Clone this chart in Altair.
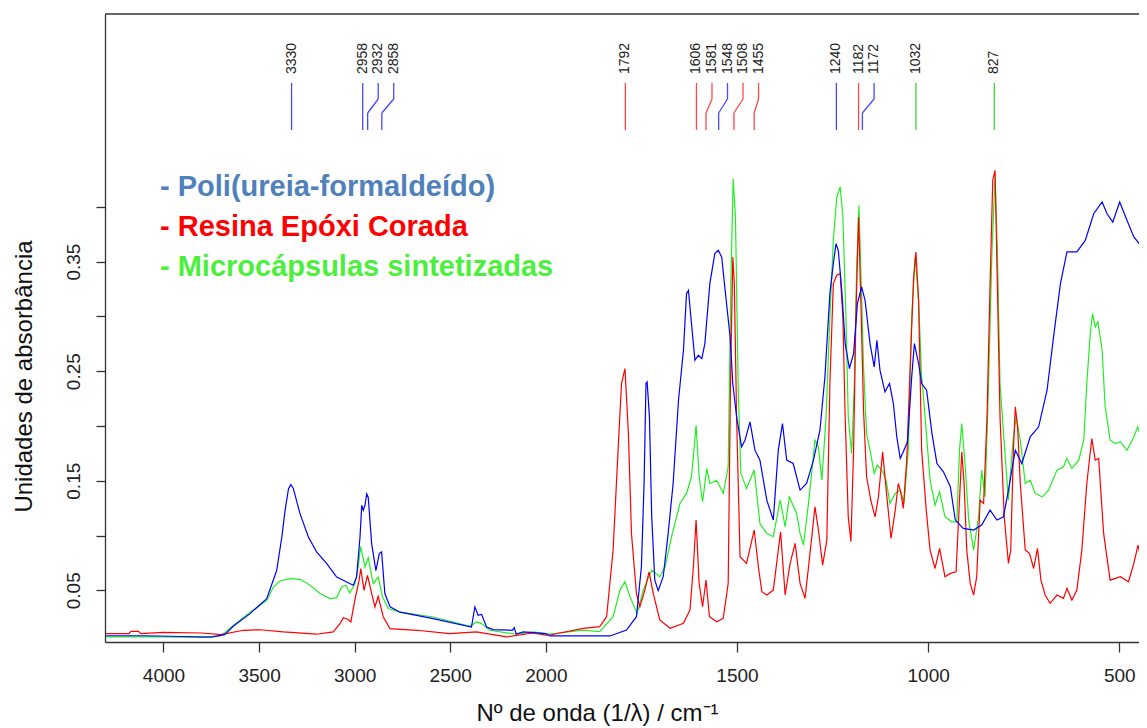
import altair as alt
import pandas as pd

# ---------------- data ----------------
series_names = ["Poli(ureia-formaldeído)", "Resina Epóxi Corada", "Microcápsulas sintetizadas"]

blue_wn = [4300, 4100, 3900, 3750, 3680, 3634, 3547, 3460, 3408, 3381, 3364, 3346, 3334, 3321, 3286, 3242,
           3199, 3146, 3094, 3042, 3007, 2990, 2972, 2963, 2955, 2946, 2937, 2929, 2911, 2889, 2871, 2859,
           2842, 2815, 2763, 2589, 2389, 2371, 2354, 2336, 2310, 2276, 2175, 2165, 2155, 2118, 2000,
           1989, 1832, 1789, 1763, 1750, 1743, 1738, 1735, 1729, 1723, 1715, 1706, 1693, 1680, 1667, 1653,
           1640, 1632, 1627, 1619, 1610, 1601, 1592, 1584, 1571, 1558, 1549, 1540, 1531, 1518, 1511, 1501,
           1488, 1479, 1466, 1453, 1440, 1422, 1405, 1392, 1381, 1370, 1353, 1335, 1318, 1300, 1283, 1270,
           1257, 1248, 1241, 1235, 1226, 1217, 1206, 1195, 1185, 1174, 1165, 1152, 1141, 1134, 1126, 1113,
           1101, 1091, 1082, 1073, 1065, 1054, 1043, 1036, 1025, 1017, 1004, 990, 977, 960, 942, 929, 908,
           881, 860, 838, 820, 803, 790, 772, 755, 733, 711, 689, 672, 654, 637, 611, 589, 567, 545, 532,
           517, 499, 480, 462, 445, 428]
blue_abs = [0.0085, 0.0085, 0.0078, 0.0072, 0.0095, 0.0174, 0.0287, 0.0424, 0.068, 0.0986, 0.123, 0.1428,
            0.1464, 0.143, 0.120, 0.0986, 0.085, 0.0744, 0.0621, 0.0576, 0.0546, 0.062, 0.0986, 0.1276,
            0.123, 0.1276, 0.138, 0.135, 0.0926, 0.068, 0.0835, 0.085, 0.047, 0.035, 0.030, 0.0242, 0.0165,
            0.0348, 0.0272, 0.028, 0.0165, 0.0141, 0.0135, 0.016, 0.010, 0.012, 0.0105,
            0.0083, 0.0083, 0.0137, 0.0259, 0.0715, 0.1475, 0.2387, 0.2402, 0.2083, 0.117, 0.0593, 0.0496,
            0.0624, 0.1019, 0.1475, 0.2235, 0.2691, 0.3208, 0.3238, 0.2934, 0.26, 0.2645, 0.2615, 0.2752,
            0.3299, 0.3573, 0.3603, 0.3542, 0.3238, 0.2813, 0.2387, 0.2083, 0.181, 0.187, 0.2037, 0.1779,
            0.1688, 0.1323, 0.1141, 0.1779, 0.2022, 0.1688, 0.1657, 0.1414, 0.1475, 0.1688, 0.1961, 0.2448,
            0.3208, 0.3481, 0.3664, 0.3603, 0.3238, 0.2752, 0.2524, 0.266, 0.3117, 0.3269, 0.3147, 0.2752,
            0.2539, 0.2782, 0.2509, 0.2311, 0.2387, 0.2205, 0.19, 0.1703, 0.1764, 0.1855, 0.2448, 0.2752,
            0.257, 0.2387, 0.2326, 0.193, 0.1657, 0.1581, 0.1445, 0.1141, 0.1065, 0.105, 0.1095, 0.1232,
            0.1141, 0.1171, 0.1414, 0.1779, 0.1657, 0.19, 0.1992, 0.2326, 0.2813, 0.3299, 0.3588, 0.3588,
            0.3694, 0.3937, 0.4044, 0.3937, 0.3861, 0.4044, 0.3877, 0.3725, 0.3649, 0.3603]

red_wn = [4300, 4180, 4170, 4130, 4120, 4000, 3800, 3700, 3582, 3495, 3373, 3199, 3112, 3077, 3059, 3033,
          3020, 2999, 2977, 2968, 2951, 2933, 2911, 2894, 2877, 2850, 2815, 2676, 2502, 2363, 2206, 2067,
          2000, 1989, 1902, 1859, 1841, 1824, 1811, 1802, 1793, 1784, 1776, 1763, 1754, 1741, 1730, 1719,
          1702, 1675, 1640, 1623, 1614, 1607, 1599, 1590, 1581, 1572, 1553, 1536, 1523, 1517, 1511, 1507,
          1501, 1492, 1475, 1455, 1444, 1435, 1422, 1405, 1386, 1374, 1361, 1348, 1335, 1322, 1309, 1296,
          1287, 1276, 1265, 1257, 1248, 1239, 1230, 1223, 1217, 1209, 1202, 1195, 1189, 1182, 1176, 1169,
          1161, 1150, 1139, 1130, 1119, 1108, 1097, 1086, 1078, 1071, 1065, 1056, 1047, 1038, 1032, 1025,
          1017, 1005, 995, 982, 970, 956, 942, 927, 918, 912, 906, 899, 890, 881, 873, 864, 855, 846, 838,
          831, 825, 819, 812, 801, 790, 784, 777, 772, 766, 759, 746, 735, 724, 714, 705, 694, 681, 663,
          646, 637, 624, 611, 598, 585, 572, 563, 554, 541, 524, 497, 476, 462, 451, 441, 428]
red_abs = [0.0105, 0.0105, 0.0125, 0.0125, 0.0105, 0.0115, 0.011, 0.0095, 0.0135, 0.014, 0.012, 0.0099,
           0.012, 0.0196, 0.025, 0.0233, 0.0211, 0.041, 0.059, 0.0698, 0.05, 0.0637, 0.047, 0.0348, 0.0445,
           0.0256, 0.015, 0.0135, 0.0105, 0.012, 0.0074, 0.011, 0.009,
           0.0092, 0.0153, 0.0168, 0.0259, 0.0867, 0.1779, 0.2387, 0.2524, 0.1931, 0.1019, 0.0472, 0.035,
           0.0502, 0.0669, 0.0472, 0.0229, 0.0153, 0.0198, 0.032, 0.0715, 0.1141, 0.0563, 0.035, 0.0593,
           0.0259, 0.0213, 0.0244, 0.0563, 0.2387, 0.3542, 0.33, 0.2083, 0.0806, 0.0746, 0.105, 0.0715,
           0.0487, 0.0457, 0.0502, 0.1034, 0.0457, 0.0746, 0.0928, 0.0563, 0.0426, 0.0837, 0.1262, 0.105,
           0.073, 0.0958, 0.2387, 0.3299, 0.3375, 0.339, 0.2995, 0.2083, 0.1171, 0.0943, 0.1779, 0.2995,
           0.3907, 0.3147, 0.2144, 0.1536, 0.1323, 0.1171, 0.1353, 0.1764, 0.1353, 0.0973, 0.1232, 0.1475,
           0.1384, 0.1247, 0.1688, 0.2539, 0.336, 0.3588, 0.3147, 0.1779, 0.1232, 0.0867, 0.0699, 0.0882,
           0.0624, 0.0654, 0.0669, 0.1323, 0.1764, 0.1475, 0.0867, 0.0563, 0.0457, 0.0624, 0.1323, 0.1293,
           0.2083, 0.3299, 0.4241, 0.4333, 0.3299, 0.2083, 0.1171, 0.0746, 0.0867, 0.1779, 0.2174, 0.1992,
           0.1475, 0.0867, 0.0837, 0.0699, 0.0882, 0.0593, 0.0457, 0.0381, 0.0457, 0.0426, 0.0517, 0.0411,
           0.0502, 0.0867, 0.1475, 0.1885, 0.1688, 0.1703, 0.1019, 0.0593, 0.0624, 0.0578, 0.0746, 0.0913,
           0.0746, 0.0654]

green_wn = [4300, 4000, 3800, 3700, 3634, 3547, 3460, 3425, 3390, 3338, 3286, 3233, 3181, 3129, 3094, 3068,
            3046, 3025, 2999, 2981, 2969, 2946, 2929, 2903, 2877, 2854, 2824, 2763, 2589, 2397, 2363, 2336,
            2293, 2154, 2067, 2000, 1989, 1902, 1859, 1824, 1806, 1793, 1780, 1761, 1745, 1723, 1702, 1688,
            1671, 1649, 1632, 1619, 1607, 1599, 1590, 1579, 1571, 1553, 1536, 1523, 1516, 1510, 1504, 1497,
            1490, 1475, 1455, 1440, 1422, 1405, 1387, 1374, 1363, 1344, 1335, 1326, 1313, 1296, 1287, 1278,
            1267, 1257, 1248, 1239, 1230, 1223, 1215, 1209, 1200, 1193, 1187, 1181, 1175, 1169, 1161, 1152,
            1141, 1133, 1121, 1110, 1100, 1086, 1073, 1063, 1052, 1043, 1034, 1025, 1017, 1008, 995, 982,
            970, 956, 938, 925, 918, 912, 903, 894, 881, 868, 860, 851, 842, 833, 825, 819, 812, 801, 790,
            778, 770, 759, 746, 733, 720, 702, 685, 663, 646, 637, 624, 606, 593, 585, 576, 570, 563, 556,
            545, 537, 524, 511, 497, 480, 462, 452, 441, 428]
green_abs = [0.0075, 0.0075, 0.007, 0.0085, 0.018, 0.030, 0.0409, 0.053, 0.0585, 0.0607, 0.060, 0.0546,
             0.047, 0.0424, 0.0433, 0.053, 0.0546, 0.0475, 0.056, 0.0713, 0.090, 0.0713, 0.0798, 0.056,
             0.062, 0.0439, 0.0333, 0.030, 0.0256, 0.0171, 0.0211, 0.0196, 0.0135, 0.0099, 0.012, 0.0105,
             0.0101, 0.0137, 0.0122, 0.0259, 0.0502, 0.0578, 0.0442, 0.029, 0.0502, 0.0684, 0.0624, 0.0715,
             0.0989, 0.1293, 0.1384, 0.1536, 0.2007, 0.1536, 0.1308, 0.1612, 0.1475, 0.1505, 0.1384, 0.1627,
             0.3299, 0.4257, 0.3907, 0.2387, 0.1566, 0.143, 0.1597, 0.111, 0.1019, 0.0989, 0.1323, 0.108,
             0.1353, 0.1201, 0.1019, 0.0913, 0.1293, 0.187, 0.181, 0.1505, 0.2083, 0.2995, 0.3694, 0.409,
             0.4181, 0.3907, 0.2995, 0.2083, 0.1749, 0.2387, 0.3451, 0.4013, 0.33, 0.2539, 0.193, 0.1779,
             0.1566, 0.1642, 0.1597, 0.1505, 0.1293, 0.1384, 0.1414, 0.1293, 0.1779, 0.2995, 0.3542, 0.3147,
             0.2448, 0.2083, 0.1505, 0.1277, 0.1399, 0.1171, 0.1125, 0.1125, 0.1779, 0.2022, 0.1627, 0.1141,
             0.0867, 0.1171, 0.1597, 0.1353, 0.2387, 0.3603, 0.4272, 0.3603, 0.2387, 0.184, 0.1323, 0.187,
             0.2083, 0.187, 0.1475, 0.1505, 0.1384, 0.1353, 0.1414, 0.1597, 0.1627, 0.1703, 0.1612, 0.1688,
             0.187, 0.2387, 0.2843, 0.3025, 0.2904, 0.2949, 0.2691, 0.2174, 0.187, 0.184, 0.1855, 0.1779,
             0.19, 0.1992, 0.187, 0.1794]

# band annotations at the top
ann_wn = [3330, 2958, 2932, 2858, 1792, 1606, 1581, 1548, 1508, 1455, 1240, 1182, 1172, 1032, 827]
ann_series = [0, 0, 0, 0, 1, 1, 1, 0, 1, 1, 0, 1, 0, 2, 2]

x_tick_wn = [4000, 3500, 3000, 2500, 2000, 1500, 1000, 500]
y_ticks = [0.05, 0.10, 0.15, 0.20, 0.25, 0.30, 0.35, 0.40]

# ---------------- helpers ----------------
def to_p(w):
    # axis scale is compressed 2x above 2000 cm-1
    return w if w <= 2000 else 2000 + (w - 2000) / 2.0

line_colors = ["#0000FF", "#FF0000", "#22EE22"]
ann_colors = ["#4848FF", "#FF4848", "#33DD33"]
legend_colors = ["#4F81BD", "#FF0000", "#4CF03C"]

spectra = []
for name, wn, ab in zip(series_names, [blue_wn, red_wn, green_wn], [blue_abs, red_abs, green_abs]):
    spectra.append(pd.DataFrame({"wn": wn, "abs": ab, "serie": name, "p": [to_p(w) for w in wn]}))

# label spreading (left to right)
GAP = 40.6
ann_p = [to_p(w) for w in ann_wn]
order = sorted(range(len(ann_wn)), key=lambda i: -ann_p[i])
lab_p = [0.0] * len(ann_wn)
prev = None
for i in order:
    lp = ann_p[i] if prev is None else min(ann_p[i], prev - GAP)
    lab_p[i] = lp
    prev = lp
ann_df = pd.DataFrame({
    "p": ann_p, "lp": lab_p, "label": [str(w) for w in ann_wn],
    "serie": [series_names[s] for s in ann_series],
})

W, H = 1034, 628
P_LEFT, P_RIGHT = 3153, 448.5
xscale = alt.Scale(domain=[P_RIGHT, P_LEFT], reverse=True, nice=False, zero=False)
yscale = alt.Scale(domain=[0.0028, 0.576], nice=False, zero=False)

FONT = "Liberation Sans"

x_axis = alt.Axis(
    values=[to_p(w) for w in x_tick_wn],
    labelExpr="datum.value > 2000 ? format(2000 + (datum.value - 2000) * 2, 'd') : format(datum.value, 'd')",
    tickSize=10, tickWidth=1.3, tickColor="#333", domainColor="#333", domainWidth=1.3,
    labelFont=FONT, labelFontSize=19, labelColor="#222", labelPadding=14,
    labelFlush=False, labelOverlap=False, grid=False,
    title="Nº de onda (1/λ) / cm⁻¹", titleFont=FONT, titleFontSize=24, titleFontWeight="normal",
    titleColor="#111", titleX=492, titleY=78, titleAlign="center", titleBaseline="alphabetic",
)
y_axis = alt.Axis(
    values=y_ticks,
    labelExpr="(round(datum.value * 100) % 10 == 5) ? format(datum.value, '.2f') : ''",
    tickSize=9, tickWidth=1.3, tickColor="#333", domainColor="#333", domainWidth=1.3,
    labelFont=FONT, labelFontSize=19, labelColor="#222", labelAngle=270,
    labelAlign="center", labelBaseline="alphabetic", labelPadding=17,
    labelFlush=False, labelOverlap=False, grid=False,
    title="Unidades de absorbância", titleFont=FONT, titleFontSize=24, titleFontWeight="normal",
    titleColor="#111", titleAngle=270, titleX=-81, titleY=362, titleAlign="center", titleBaseline="middle",
)

color_lines = alt.Color("serie:N", scale=alt.Scale(domain=series_names, range=line_colors), legend=None)
color_ann = alt.Color("serie:N", scale=alt.Scale(domain=series_names, range=ann_colors), legend=None)

layers = []
# draw order: green, red, blue
for idx in [2, 1, 0]:
    df = spectra[idx]
    lyr = alt.Chart(df).mark_line(strokeWidth=1.2, clip=True).encode(
        x=alt.X("p:Q", scale=xscale, axis=x_axis),
        y=alt.Y("abs:Q", scale=yscale, axis=y_axis),
        order=alt.Order("p:Q"),
        color=color_lines,
    )
    layers.append(lyr)

ann_base = alt.Chart(ann_df)
r1 = ann_base.mark_rule(strokeWidth=1.3).encode(
    x=alt.X("lp:Q", scale=xscale, axis=x_axis), y=alt.value(69), y2=alt.value(85), color=color_ann)
r2 = ann_base.mark_rule(strokeWidth=1.3).encode(
    x=alt.X("lp:Q", scale=xscale, axis=x_axis), x2="p:Q", y=alt.value(85), y2=alt.value(99), color=color_ann)
r3 = ann_base.mark_rule(strokeWidth=1.3).encode(
    x=alt.X("p:Q", scale=xscale, axis=x_axis), y=alt.value(99), y2=alt.value(116), color=color_ann)
txt = ann_base.mark_text(angle=270, align="left", baseline="middle", font=FONT, fontSize=14,
                         color="#222").encode(
    x=alt.X("lp:Q", scale=xscale, axis=x_axis), y=alt.value(60), text="label:N")

top_border = alt.Chart(pd.DataFrame({"a": [0]})).mark_rule(color="#333", strokeWidth=1.3).encode(
    x=alt.value(0), x2=alt.value(W), y=alt.value(0))

leg_layers = []
for k, (name, col) in enumerate(zip(series_names, legend_colors)):
    leg_layers.append(
        alt.Chart(pd.DataFrame({"t": ["- " + name]})).mark_text(
            align="left", baseline="middle", font=FONT, fontSize=29, fontWeight="bold", color=col
        ).encode(x=alt.value(55), y=alt.value(173 + 40 * k), text="t:N")
    )

chart = alt.layer(*layers, r1, r2, r3, txt, top_border, *leg_layers).properties(
    width=W, height=H,
    autosize=alt.AutoSizeParams(type="none"),
    padding={"left": 97, "top": 6, "right": 0, "bottom": 84},
).configure_view(stroke=None).resolve_scale(color="independent")

chart.save("out.html", embed_options={"renderer": "svg", "actions": False})
